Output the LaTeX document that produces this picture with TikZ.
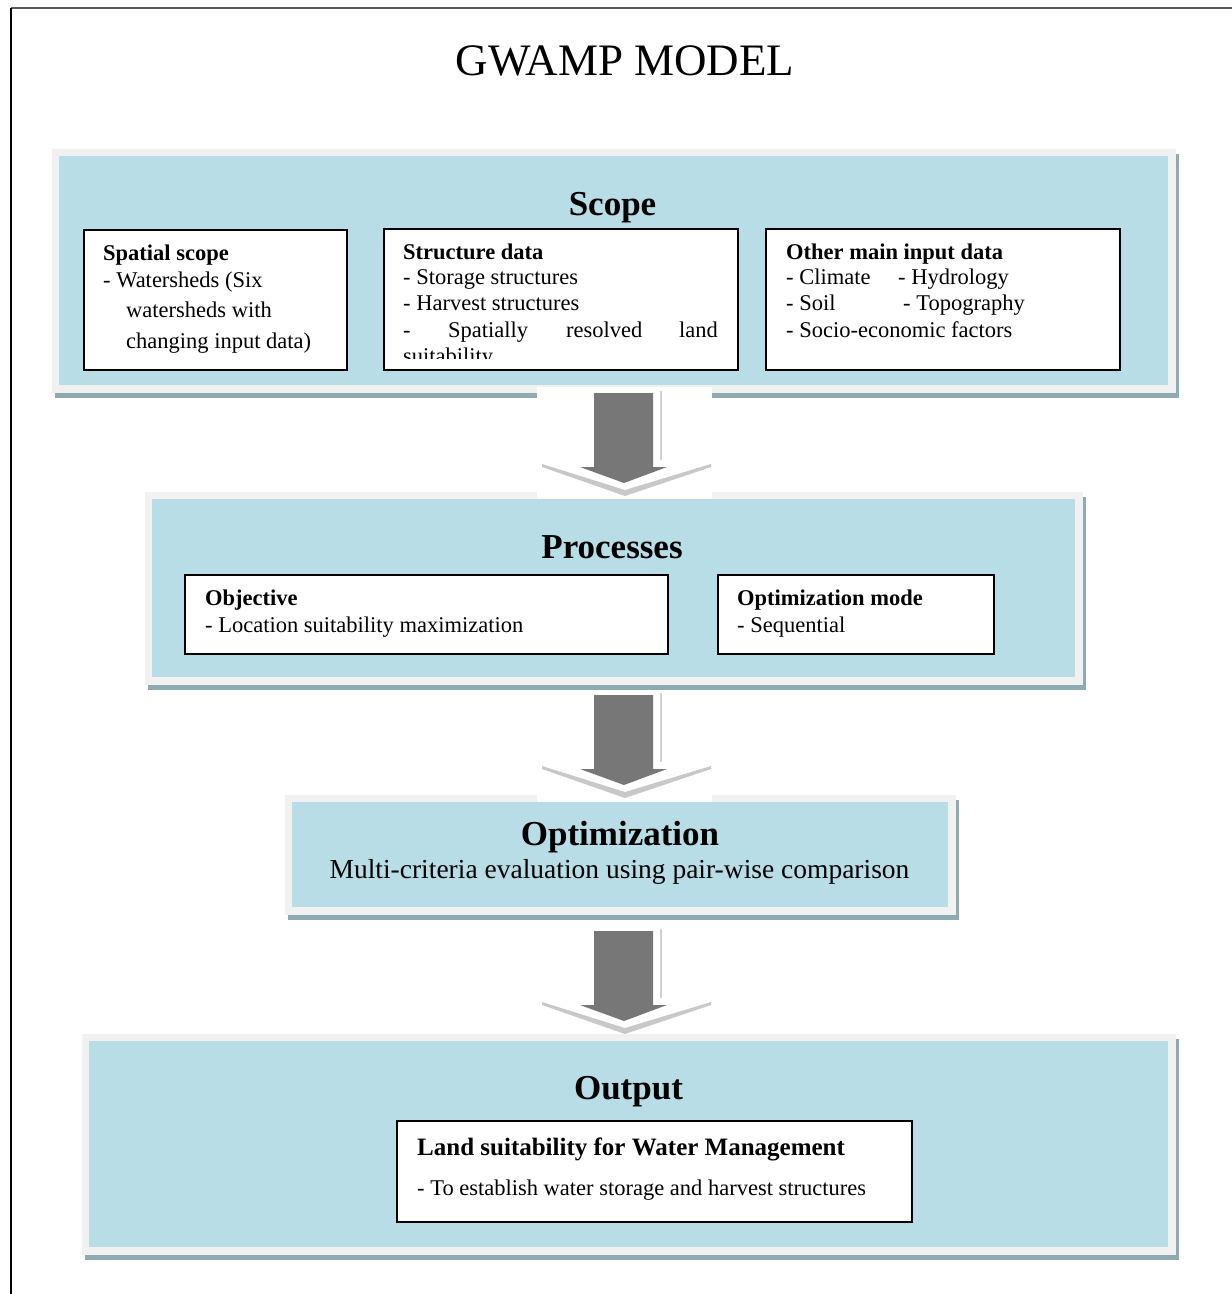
\documentclass[tikz,border=0pt]{standalone}
\usepackage{fontspec}
\setmainfont{Liberation Serif}
\definecolor{pblue}{RGB}{184,221,231}
\definecolor{pgray}{RGB}{241,241,241}
\definecolor{pshadow}{RGB}{143,171,178}
\definecolor{arrowc}{RGB}{119,119,119}
\definecolor{chevc}{RGB}{200,200,200}
\definecolor{linec}{RGB}{208,208,208}
\tikzset{
  panel/.style={fill=pblue, inner sep=0pt, outer sep=0pt,
    preaction={fill=pshadow, draw=pshadow, line width=15pt, transform canvas={shift={(3pt,-5pt)}}},
    preaction={draw=pgray, line width=15pt}},
  wbox/.style={fill=white, draw=black, line width=1.5pt, inner sep=0pt},
  txt/.style={inner sep=0pt, anchor=base west, font=\fontsize{22.5}{26}\selectfont},
  btxt/.style={txt, font=\fontsize{22.5}{26}\selectfont\bfseries},
  head/.style={inner sep=0pt, anchor=base, font=\fontsize{35}{40}\selectfont\bfseries},
  blockarrow/.style={fill=arrowc},
  chevron/.style={fill=chevc},
  sideline/.style={draw=linec, line width=2pt}
}
\begin{document}
\begin{tikzpicture}[x=1pt,y=-1pt]
\useasboundingbox (0,0) rectangle (1232,1294);
% outer frame
\draw[black!65, line width=1.2pt] (11,8) -- (1232,8);
\draw[black, line width=2pt] (11,8) -- (11,1294);

% title
\node[inner sep=0pt, anchor=base, font=\fontsize{45}{50}\selectfont] (title) at (625,75) {GWAMP MODEL};

% panels
\node[panel, minimum width=1109pt, minimum height=229pt] (scope) at (613.5,270.5) {};
\node[panel, minimum width=923pt, minimum height=178pt] (proc) at (613.5,588) {};
\node[panel, minimum width=656pt, minimum height=105pt] (optim) at (620,854.5) {};
\node[panel, minimum width=1079pt, minimum height=206pt] (output) at (628.5,1144) {};

% white backing behind first two arrows
\fill[white] (537,387) rectangle (712,499);
\fill[white] (537,691) rectangle (712,802);

% arrows
\foreach \T/\n in {393/a, 695/b, 931/c}{
  \coordinate (top\n) at (624,\T);
  \fill[chevron] (542,\T+71) -- (625,\T+97) -- (711,\T+71) -- (711,\T+74) -- (625,\T+103) -- (542,\T+74) -- cycle;
  \draw[sideline] (661,\T-2) -- (661,\T+67);
  \fill[blockarrow] (594,\T) -- (653,\T) -- (653,\T+74) -- (667,\T+74) -- (624,\T+90) -- (580,\T+74) -- (594,\T+74) -- cycle;
}

% headings
\node[head] (hscope) at (612.5,215) {Scope};
\node[head] (hproc) at (612,558) {Processes};
\node[head] (hoptim) at (620,845) {Optimization};
\node[inner sep=0pt, anchor=base, font=\fontsize{27.5}{32}\selectfont] (moptim) at (619.5,878) {Multi-criteria evaluation using pair-wise comparison};
\node[head] (hout) at (628.5,1099) {Output};

% scope boxes
\node[wbox, minimum width=263pt, minimum height=140pt] (spatial) at (215.5,300) {};
\node[btxt] (sp1) at (103,260) {Spatial scope};
\node[txt] (sp2) at (103,287) {- Watersheds (Six};
\node[txt] (sp3) at (126,317) {watersheds with};
\node[txt] (sp4) at (126,348) {changing input data)};

\node[wbox, minimum width=354pt, minimum height=141pt] (struct) at (561,299.5) {};
\node[btxt] (st1) at (403,259) {Structure data};
\node[txt] (st2) at (403,284) {- Storage structures};
\node[txt] (st3) at (403,310) {- Harvest structures};
\node[txt] (st4a) at (403,337) {-};
\node[txt] (st4b) at (448,337) {Spatially};
\node[txt] (st4c) at (566,337) {resolved};
\node[txt, anchor=base east] (st4d) at (718,337) {land};
\begin{scope}
  \clip (385,340) rectangle (737,358);
  \node[txt] (st5) at (403,363) {suitability};
\end{scope}

\node[wbox, minimum width=354pt, minimum height=141pt] (other) at (943,299.5) {};
\node[btxt] (ot1) at (786,259) {Other main input data};
\node[txt] (ot2) at (786,284) {- Climate};
\node[txt] (ot3) at (898,284) {- Hydrology};
\node[txt] (ot4) at (786,310) {- Soil};
\node[txt] (ot5) at (903,310) {- Topography};
\node[txt] (ot6) at (786,337) {- Socio-economic factors};

% process boxes
\node[wbox, minimum width=483pt, minimum height=79pt] (objective) at (426.5,614.5) {};
\node[btxt] (ob1) at (205,605) {Objective};
\node[txt] (ob2) at (205,632) {- Location suitability maximization};

\node[wbox, minimum width=276pt, minimum height=79pt] (optmode) at (856,614.5) {};
\node[btxt] (om1) at (737,605) {Optimization mode};
\node[txt] (om2) at (737,632) {- Sequential};

% output box
\node[wbox, minimum width=515pt, minimum height=101pt] (land) at (654.5,1171.5) {};
\node[txt, font=\fontsize{25}{30}\selectfont\bfseries] (la1) at (417,1155) {Land suitability for Water Management};
\node[txt] (la2) at (417,1195) {- To establish water storage and harvest structures};
\end{tikzpicture}
\end{document}
